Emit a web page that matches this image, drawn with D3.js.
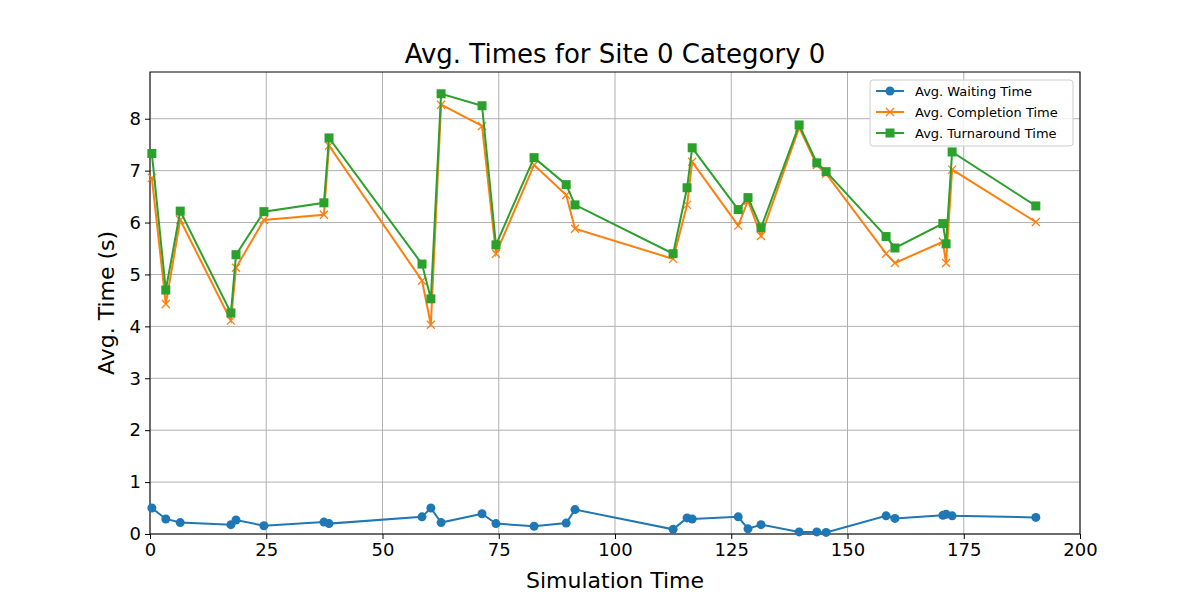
<!DOCTYPE html>
<html><head><meta charset="utf-8">
<script src="https://cdn.jsdelivr.net/npm/d3@7"></script>
<style>body{margin:0;background:#fff}text{font-family:"DejaVu Sans",sans-serif}</style>
</head><body><div id="chart"></div>
<script>
const times = [0.4,3.4,6.5,17.4,18.5,24.5,37.4,38.5,58.5,60.4,62.6,71.4,74.4,82.6,89.5,91.4,112.5,115.5,116.6,126.5,128.6,131.4,139.6,143.4,145.4,158.3,160.2,170.5,171.2,172.5,190.5];
const waiting = [0.50,0.29,0.22,0.18,0.27,0.16,0.23,0.20,0.33,0.50,0.22,0.39,0.20,0.15,0.21,0.47,0.09,0.31,0.29,0.33,0.10,0.18,0.04,0.04,0.03,0.35,0.30,0.36,0.38,0.35,0.32];
const completion = [6.86,4.43,6.05,4.11,5.13,6.05,6.15,7.48,4.88,4.03,8.27,7.86,5.40,7.11,6.53,5.88,5.30,6.34,7.17,5.94,6.42,5.74,7.83,7.11,6.94,5.40,5.22,5.63,5.22,7.02,6.01];
const turnaround = [7.33,4.70,6.22,4.26,5.38,6.21,6.38,7.63,5.20,4.53,8.48,8.25,5.57,7.25,6.73,6.34,5.40,6.67,7.44,6.25,6.48,5.90,7.88,7.15,6.98,5.73,5.51,5.98,5.59,7.36,6.32];
const xTicks = [0,25,50,75,100,125,150,175,200];
const yTicks = [0,1,2,3,4,5,6,7,8];
const series = [
  {name:"Avg. Waiting Time", values:waiting, color:"#1f77b4", marker:"circle"},
  {name:"Avg. Completion Time", values:completion, color:"#ff7f0e", marker:"x"},
  {name:"Avg. Turnaround Time", values:turnaround, color:"#2ca02c", marker:"square"}
];

const W = 1200, H = 600, m = {top:72, right:120, bottom:66, left:150};
const svg = d3.select("#chart").append("svg").attr("width", W).attr("height", H);
const x = d3.scaleLinear().domain([0,200]).range([m.left, W - m.right]);
const y = d3.scaleLinear().domain([0,8.9]).range([H - m.bottom, m.top]);

// grid
svg.append("g").selectAll("line").data(xTicks).join("line")
  .attr("x1", d => x(d)).attr("x2", d => x(d)).attr("y1", m.top).attr("y2", H - m.bottom)
  .attr("stroke", "#b0b0b0").attr("stroke-width", 1);
svg.append("g").selectAll("line").data(yTicks).join("line")
  .attr("y1", d => y(d)).attr("y2", d => y(d)).attr("x1", m.left).attr("x2", W - m.right)
  .attr("stroke", "#b0b0b0").attr("stroke-width", 1);

const xAxis = svg.append("g").attr("transform", `translate(0,${H - m.bottom})`)
  .call(d3.axisBottom(x).tickValues(xTicks).tickSizeOuter(0).tickSize(5).tickPadding(4));
const yAxis = svg.append("g").attr("transform", `translate(${m.left},0)`)
  .call(d3.axisLeft(y).tickValues(yTicks).tickSizeOuter(0).tickSize(5).tickPadding(4));
[xAxis, yAxis].forEach(a => {
  a.selectAll("text").attr("font-size", "18px").attr("fill", "#000").style("font-family", "DejaVu Sans");
  a.select(".domain").remove();
});
svg.append("rect").attr("x", m.left).attr("y", m.top)
  .attr("width", W - m.left - m.right).attr("height", H - m.top - m.bottom)
  .attr("fill", "none").attr("stroke", "#000").attr("stroke-width", 1);

const line = d3.line().x((d, i) => x(times[i])).y(d => y(d));
function drawMarker(g, type, color, cx, cy) {
  if (type === "circle") g.append("circle").attr("cx", cx).attr("cy", cy).attr("r", 4.5).attr("fill", color);
  else if (type === "square") g.append("rect").attr("x", cx - 4.5).attr("y", cy - 4.5).attr("width", 9).attr("height", 9).attr("fill", color);
  else g.append("path").attr("d", `M${cx-4},${cy-4}L${cx+4},${cy+4}M${cx-4},${cy+4}L${cx+4},${cy-4}`).attr("stroke", color).attr("stroke-width", 1.3);
}
series.forEach(s => {
  svg.append("path").datum(s.values).attr("d", line).attr("fill", "none").attr("stroke", s.color).attr("stroke-width", 2);
  const g = svg.append("g");
  s.values.forEach((v, i) => drawMarker(g, s.marker, s.color, x(times[i]), y(v)));
});

svg.append("text").attr("x", (m.left + W - m.right) / 2).attr("y", 63).attr("text-anchor", "middle")
  .attr("font-size", "26px").text("Avg. Times for Site 0 Category 0");
svg.append("text").attr("x", (m.left + W - m.right) / 2).attr("y", 588).attr("text-anchor", "middle")
  .attr("font-size", "22px").text("Simulation Time");
svg.append("text").attr("transform", `translate(114,${(m.top + H - m.bottom) / 2}) rotate(-90)`)
  .attr("text-anchor", "middle").attr("font-size", "22px").text("Avg. Time (s)");

const legend = svg.append("g").attr("transform", "translate(870,80)");
legend.append("rect").attr("width", 203).attr("height", 66).attr("rx", 3)
  .attr("fill", "#fff").attr("fill-opacity", 0.8).attr("stroke", "#ccc");
series.forEach((s, i) => {
  const yy = 11 + i * 21;
  legend.append("line").attr("x1", 6).attr("x2", 34).attr("y1", yy).attr("y2", yy).attr("stroke", s.color).attr("stroke-width", 2);
  drawMarker(legend, s.marker, s.color, 20, yy);
  legend.append("text").attr("x", 45).attr("y", yy + 4.5).attr("font-size", "13px").text(s.name);
});
</script></body></html>
